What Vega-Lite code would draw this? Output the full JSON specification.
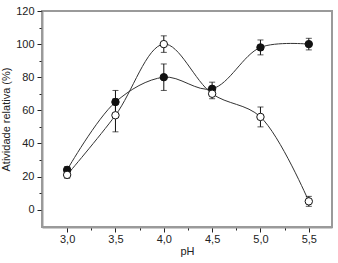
{
  "$schema": "https://vega.github.io/schema/vega-lite/v6.json",
  "width": 290,
  "height": 216,
  "autosize": "none",
  "padding": {"left": 42, "top": 11, "right": 6, "bottom": 36},
  "background": "white",
  "config": {
    "view": {"stroke": "#9a9a9a", "strokeWidth": 2},
    "font": "Liberation Sans",
    "axis": {
      "domainColor": "#9a9a9a",
      "domainWidth": 2,
      "tickColor": "#222",
      "grid": false,
      "labelFont": "Liberation Sans",
      "labelFontSize": 11,
      "labelColor": "#222",
      "titleFont": "Liberation Sans",
      "titleFontSize": 11,
      "titleFontWeight": "normal",
      "titleColor": "#222"
    }
  },
  "data": {
    "values": [
      {"pH": 3.0, "serie": "A", "y": 24, "lo": 22, "hi": 26},
      {"pH": 3.5, "serie": "A", "y": 65, "lo": 58, "hi": 72},
      {"pH": 4.0, "serie": "A", "y": 80, "lo": 72, "hi": 88},
      {"pH": 4.5, "serie": "A", "y": 73, "lo": 69, "hi": 77},
      {"pH": 5.0, "serie": "A", "y": 98, "lo": 93.5, "hi": 102.5},
      {"pH": 5.5, "serie": "A", "y": 100, "lo": 96.5, "hi": 103.5},
      {"pH": 3.0, "serie": "B", "y": 21, "lo": 19, "hi": 23},
      {"pH": 3.5, "serie": "B", "y": 57, "lo": 47, "hi": 67},
      {"pH": 4.0, "serie": "B", "y": 100, "lo": 95, "hi": 105},
      {"pH": 4.5, "serie": "B", "y": 70, "lo": 67, "hi": 73},
      {"pH": 5.0, "serie": "B", "y": 56, "lo": 50, "hi": 62},
      {"pH": 5.5, "serie": "B", "y": 5, "lo": 2, "hi": 8}
    ]
  },
  "encoding": {
    "x": {
      "field": "pH", "type": "quantitative",
      "scale": {"domain": [2.74, 5.74], "nice": false, "zero": false},
      "axis": {
        "title": "pH",
        "values": [3.0, 3.25, 3.5, 3.75, 4.0, 4.25, 4.5, 4.75, 5.0, 5.25, 5.5],
        "tickCount": 30,
        "labelExpr": "(round(datum.value*4)%2==0) ? replace(format(datum.value,'.1f'),'.',',') : ''",
        "tickSize": {"condition": {"test": "round(datum.value*4)%2==0", "value": 5}, "value": 3},
        "labelOverlap": false,
        "labelPadding": 1,
        "titlePadding": 1
      }
    }
  },
  "layer": [
    {
      "mark": {"type": "line", "interpolate": "catmull-rom", "color": "#333", "strokeWidth": 1},
      "encoding": {
        "y": {
          "field": "y", "type": "quantitative",
          "scale": {"domain": [-10.5, 120], "nice": false},
          "axis": {
            "title": "Atividade relativa (%)",
            "values": [0, 10, 20, 30, 40, 50, 60, 70, 80, 90, 100, 110, 120],
            "tickCount": 30,
            "labelExpr": "(round(datum.value)%20==0) ? format(datum.value,'d') : ''",
            "tickSize": {"condition": {"test": "round(datum.value)%20==0", "value": 5}, "value": 3},
            "labelOverlap": false,
            "labelPadding": 3,
            "titlePadding": 4
          }
        },
        "detail": {"field": "serie"}
      }
    },
    {
      "mark": {"type": "rule", "color": "#111", "strokeWidth": 1},
      "encoding": {
        "y": {"field": "lo", "type": "quantitative"},
        "y2": {"field": "hi"}
      }
    },
    {
      "mark": {"type": "tick", "color": "#111", "size": 6, "thickness": 1, "orient": "horizontal"},
      "encoding": {"y": {"field": "lo", "type": "quantitative"}}
    },
    {
      "mark": {"type": "tick", "color": "#111", "size": 6, "thickness": 1, "orient": "horizontal"},
      "encoding": {"y": {"field": "hi", "type": "quantitative"}}
    },
    {
      "mark": {"type": "point", "shape": "circle", "size": 55, "strokeWidth": 1, "opacity": 1},
      "encoding": {
        "y": {"field": "y", "type": "quantitative"},
        "fill": {"field": "serie", "type": "nominal", "scale": {"domain": ["A", "B"], "range": ["#111", "white"]}, "legend": null},
        "stroke": {"value": "#111"}
      }
    }
  ]
}
